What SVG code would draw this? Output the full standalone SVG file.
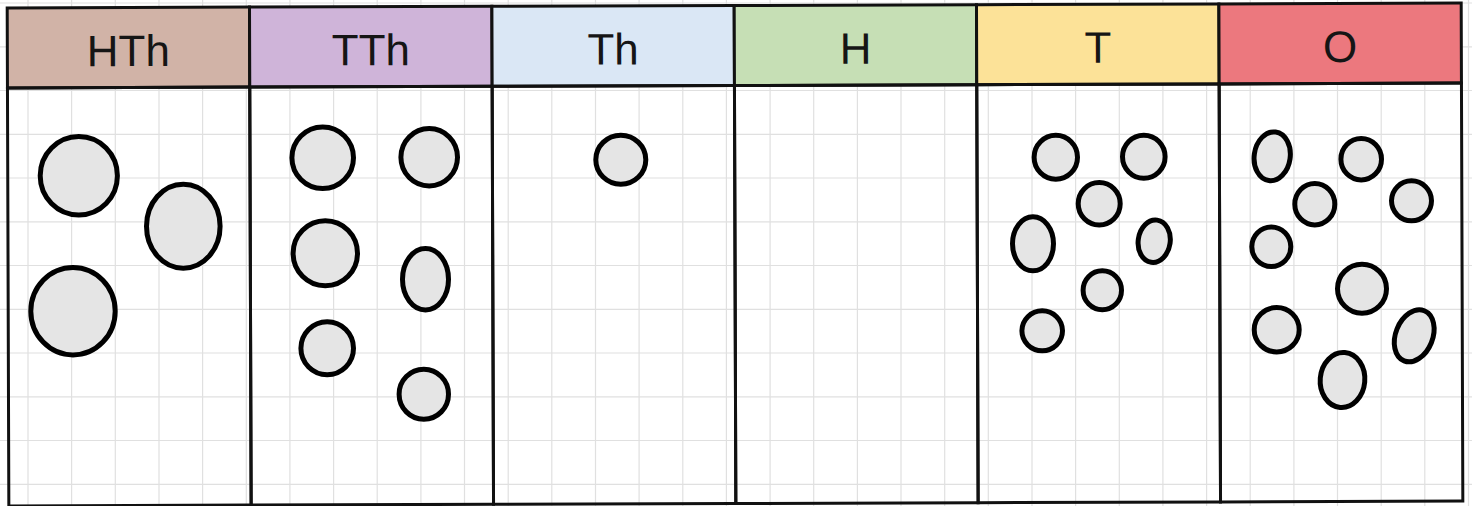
<svg xmlns="http://www.w3.org/2000/svg" width="1472" height="506" viewBox="0 0 1472 506">
<style>
.grid line{stroke:#e0e0e0;stroke-width:1.2}
.hdr{stroke:#111;stroke-width:3}
.body{fill:none;stroke:#111;stroke-width:3}
.lbl{font-family:"Liberation Sans",Arial,sans-serif;font-size:44px;fill:#151515;text-anchor:middle}
.c{fill:#e5e5e5;stroke:#000;stroke-width:5}
</style>
<rect width="1472" height="506" fill="#fff"/>
<g class="grid" id="grid">
<line x1="28" y1="0" x2="28" y2="506"/><line x1="71.6" y1="0" x2="71.6" y2="506"/><line x1="115.3" y1="0" x2="115.3" y2="506"/><line x1="159" y1="0" x2="159" y2="506"/><line x1="202.6" y1="0" x2="202.6" y2="506"/><line x1="246.3" y1="0" x2="246.3" y2="506"/><line x1="289.9" y1="0" x2="289.9" y2="506"/><line x1="333.6" y1="0" x2="333.6" y2="506"/><line x1="377.2" y1="0" x2="377.2" y2="506"/><line x1="420.9" y1="0" x2="420.9" y2="506"/><line x1="464.5" y1="0" x2="464.5" y2="506"/><line x1="508.2" y1="0" x2="508.2" y2="506"/><line x1="551.8" y1="0" x2="551.8" y2="506"/><line x1="595.5" y1="0" x2="595.5" y2="506"/><line x1="639.1" y1="0" x2="639.1" y2="506"/><line x1="682.8" y1="0" x2="682.8" y2="506"/><line x1="726.4" y1="0" x2="726.4" y2="506"/><line x1="770.1" y1="0" x2="770.1" y2="506"/><line x1="813.7" y1="0" x2="813.7" y2="506"/><line x1="857.4" y1="0" x2="857.4" y2="506"/><line x1="901" y1="0" x2="901" y2="506"/><line x1="944.7" y1="0" x2="944.7" y2="506"/><line x1="988.3" y1="0" x2="988.3" y2="506"/><line x1="1032" y1="0" x2="1032" y2="506"/><line x1="1075.6" y1="0" x2="1075.6" y2="506"/><line x1="1119.3" y1="0" x2="1119.3" y2="506"/><line x1="1162.9" y1="0" x2="1162.9" y2="506"/><line x1="1206.6" y1="0" x2="1206.6" y2="506"/><line x1="1250.2" y1="0" x2="1250.2" y2="506"/><line x1="1293.9" y1="0" x2="1293.9" y2="506"/><line x1="1337.5" y1="0" x2="1337.5" y2="506"/><line x1="1381.2" y1="0" x2="1381.2" y2="506"/><line x1="1424.8" y1="0" x2="1424.8" y2="506"/><line x1="1468.5" y1="0" x2="1468.5" y2="506"/>
<line x1="0" y1="3" x2="1472" y2="3"/><line x1="0" y1="46.8" x2="1472" y2="46.8"/><line x1="0" y1="90.5" x2="1472" y2="90.5"/><line x1="0" y1="134.3" x2="1472" y2="134.3"/><line x1="0" y1="178" x2="1472" y2="178"/><line x1="0" y1="221.8" x2="1472" y2="221.8"/><line x1="0" y1="265.5" x2="1472" y2="265.5"/><line x1="0" y1="309.3" x2="1472" y2="309.3"/><line x1="0" y1="353" x2="1472" y2="353"/><line x1="0" y1="396.8" x2="1472" y2="396.8"/><line x1="0" y1="440.5" x2="1472" y2="440.5"/><line x1="0" y1="484.3" x2="1472" y2="484.3"/>
</g>

<g id="col-HTh">
<g transform="rotate(-0.19 735 250)">
<rect class="hdr" x="8" y="5.5" width="242.3" height="80" fill="#d1b3a7"/>
<rect class="body" x="8" y="85.5" width="242.3" height="418"/>
<text class="lbl" x="129" y="64">HTh</text>
</g>
<ellipse class="c" cx="78.8" cy="175.7" rx="38.6" ry="39.2"/>
<ellipse class="c" cx="183.3" cy="226.2" rx="36.8" ry="42"/>
<ellipse class="c" cx="73" cy="311.2" rx="42.2" ry="43.7"/>
</g>

<g id="col-TTh">
<g transform="rotate(-0.19 735 250)">
<rect class="hdr" x="250.3" y="5.5" width="242.4" height="80" fill="#cfb4d9"/>
<rect class="body" x="250.3" y="85.5" width="242.4" height="418"/>
<text class="lbl" x="371.5" y="64">TTh</text>
</g>
<ellipse class="c" cx="322.7" cy="157.7" rx="30.8" ry="30.8"/>
<ellipse class="c" cx="429.2" cy="157.2" rx="28.3" ry="28.7"/>
<ellipse class="c" cx="325.3" cy="253.3" rx="32.2" ry="32.5"/>
<ellipse class="c" cx="425.5" cy="279.2" rx="23" ry="30.7"/>
<ellipse class="c" cx="327.2" cy="348.3" rx="26.3" ry="26.5"/>
<ellipse class="c" cx="423.8" cy="394.2" rx="24.7" ry="25"/>
</g>

<g id="col-Th">
<g transform="rotate(-0.19 735 250)">
<rect class="hdr" x="492.7" y="5.5" width="242.3" height="80" fill="#dae7f5"/>
<rect class="body" x="492.7" y="85.5" width="242.3" height="418"/>
<text class="lbl" x="613.8" y="64">Th</text>
</g>
<ellipse class="c" cx="620.8" cy="159.7" rx="25" ry="24.5"/>
</g>

<g id="col-H">
<g transform="rotate(-0.19 735 250)">
<rect class="hdr" x="735" y="5.5" width="242.3" height="80" fill="#c6dfb5"/>
<rect class="body" x="735" y="85.5" width="242.3" height="418"/>
<text class="lbl" x="856.2" y="64">H</text>
</g>
</g>

<g id="col-T">
<g transform="rotate(-0.19 735 250)">
<rect class="hdr" x="977.3" y="5.5" width="242.4" height="80" fill="#fce298"/>
<rect class="body" x="977.3" y="85.5" width="242.4" height="418"/>
<text class="lbl" x="1098.5" y="64">T</text>
</g>
<ellipse class="c" cx="1055.8" cy="157.2" rx="21.7" ry="22"/>
<ellipse class="c" cx="1143.8" cy="156.7" rx="21.3" ry="21.5"/>
<ellipse class="c" cx="1099.2" cy="203.7" rx="21" ry="21.2"/>
<ellipse class="c" cx="1033" cy="243.8" rx="20.5" ry="27"/>
<ellipse class="c" cx="1154.2" cy="241.2" rx="16" ry="21.3" transform="rotate(8 1154.2 241.2)"/>
<ellipse class="c" cx="1102.3" cy="290.3" rx="19.2" ry="19.5"/>
<ellipse class="c" cx="1042.2" cy="330.8" rx="20.3" ry="20"/>
</g>

<g id="col-O">
<g transform="rotate(-0.19 735 250)">
<rect class="hdr" x="1219.7" y="5.5" width="242.3" height="80" fill="#ec787e"/>
<rect class="body" x="1219.7" y="85.5" width="242.3" height="418"/>
<text class="lbl" x="1340.8" y="64">O</text>
</g>
<ellipse class="c" cx="1272.2" cy="156.3" rx="18" ry="24.5" transform="rotate(8 1272.2 156.3)"/>
<ellipse class="c" cx="1361.2" cy="159.2" rx="20.3" ry="20.7"/>
<ellipse class="c" cx="1314.8" cy="204.2" rx="20" ry="20.7"/>
<ellipse class="c" cx="1411.5" cy="200.8" rx="20" ry="20"/>
<ellipse class="c" cx="1271.3" cy="246.7" rx="19.5" ry="19.8"/>
<ellipse class="c" cx="1362" cy="288.7" rx="24.5" ry="24.5"/>
<ellipse class="c" cx="1276.7" cy="329.7" rx="22.5" ry="22.2"/>
<ellipse class="c" cx="1414.2" cy="335.8" rx="18.5" ry="27" transform="rotate(22 1414.2 335.8)"/>
<ellipse class="c" cx="1342.5" cy="380" rx="22.3" ry="27.5" transform="rotate(5 1342.5 380)"/>
</g>
</svg>
